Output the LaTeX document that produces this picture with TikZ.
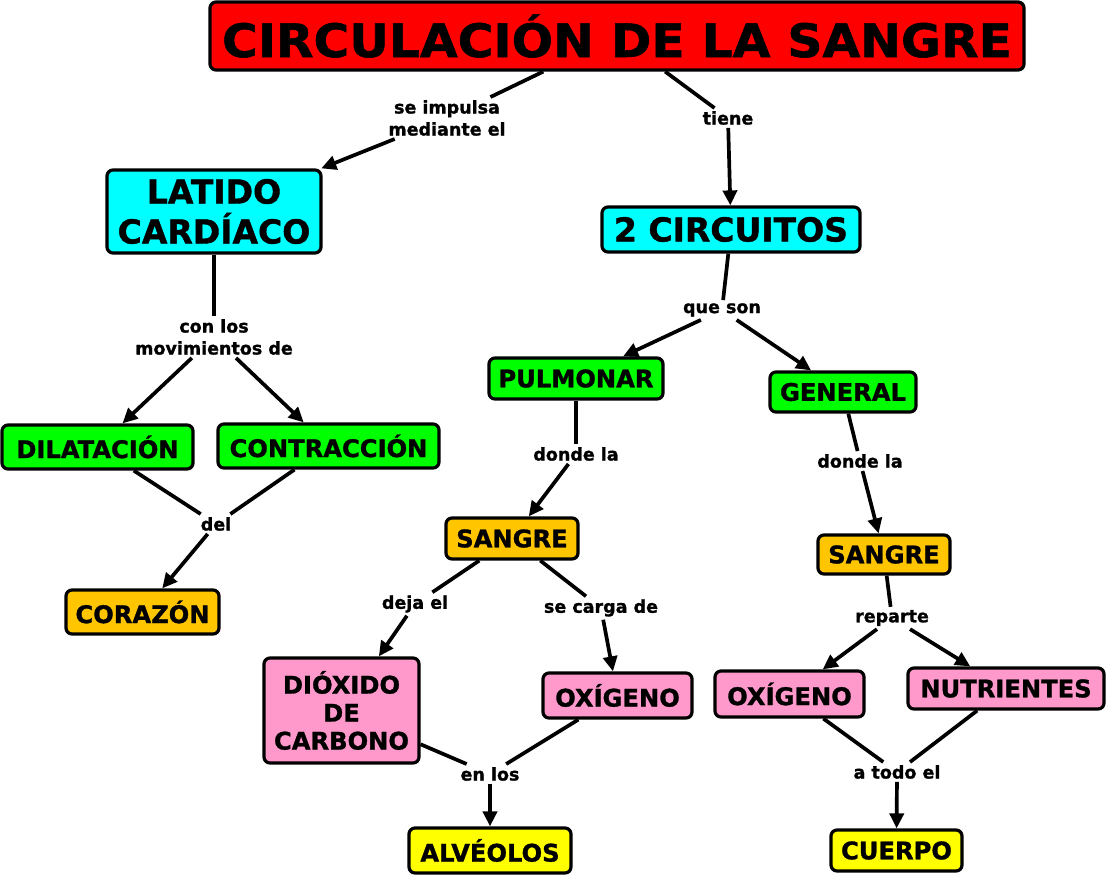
\documentclass[tikz,border=0pt]{standalone}
\usepackage{fontspec}
\setmainfont{DejaVu Sans}[BoldFont={DejaVu Sans Bold}, BoldFeatures={FakeBold=1.2}]
\newfontfamily\titlefont{DejaVu Sans Bold}[FakeStretch=1.06, FakeBold=1.2]
\usetikzlibrary{arrows.meta}
\definecolor{cred}{HTML}{FF0000}
\definecolor{ccyan}{HTML}{00FFFF}
\definecolor{cgreen}{HTML}{00FF00}
\definecolor{corange}{HTML}{FFC600}
\definecolor{cpink}{HTML}{FF99CC}
\definecolor{cyellow}{HTML}{FFFF00}
\tikzset{
  box/.style={draw=black, line width=3.2pt, rounded corners=6pt, inner sep=0pt, align=center, font=\bfseries\fontsize{24.2}{28}\selectfont},
  lbl/.style={inner sep=3pt, align=center, font=\bfseries\fontsize{17.5}{22}\selectfont},
  conn/.style={line width=3.7pt},
  arr/.style={line width=3.7pt, -{Triangle[length=15pt,width=14pt]}},
}
\begin{document}
\begin{tikzpicture}[x=1pt,y=-1pt]
\useasboundingbox[fill=white] (0,0) rectangle (1106,875);
% boxes
\node[box, fill=cred, minimum width=814, minimum height=68, font=\titlefont\fontsize{46}{50}\selectfont] (title) at (617,36) {CIRCULACIÓN DE LA SANGRE};
\node[box, fill=ccyan, minimum width=214, minimum height=83, font=\bfseries\fontsize{33}{40}\selectfont] (latido) at (214,211.5) {LATIDO\\CARDÍACO};
\node[box, fill=ccyan, minimum width=258, minimum height=45, font=\bfseries\fontsize{33}{36}\selectfont] (circ) at (731,229.5) {2 CIRCUITOS};
\node[box, fill=cgreen, minimum width=174, minimum height=41] (pulm) at (576,378.5) {PULMONAR};
\node[box, fill=cgreen, minimum width=146, minimum height=40] (gen) at (843,392) {GENERAL};
\node[box, fill=cgreen, minimum width=191, minimum height=44] (dil) at (97.5,447) {DILATACIÓN};
\node[box, fill=cgreen, minimum width=221, minimum height=44] (contr) at (328.5,446) {CONTRACCIÓN};
\node[box, fill=corange, minimum width=153, minimum height=44] (cora) at (142.5,612) {CORAZÓN};
\node[box, fill=corange, minimum width=132, minimum height=41] (sangL) at (512,538.5) {SANGRE};
\node[box, fill=corange, minimum width=132, minimum height=39] (sangR) at (884,554.5) {SANGRE};
\node[box, fill=cpink, minimum width=155, minimum height=105, font=\bfseries\fontsize{24.2}{28}\selectfont] (diox) at (341.5,710.5) {DIÓXIDO\\DE\\CARBONO};
\node[box, fill=cpink, minimum width=149, minimum height=45] (oxL) at (617.5,695.5) {OXÍGENO};
\node[box, fill=cpink, minimum width=149, minimum height=46] (oxR) at (789.5,694) {OXÍGENO};
\node[box, fill=cpink, minimum width=196, minimum height=41] (nutr) at (1006,688.5) {NUTRIENTES};
\node[box, fill=cyellow, minimum width=162, minimum height=45] (alv) at (490,850.5) {ALVÉOLOS};
\node[box, fill=cyellow, minimum width=131, minimum height=41] (cuer) at (896.5,850.5) {CUERPO};
% labels
\node[lbl] (l1) at (447,118) {se impulsa\\mediante el};
\node[lbl] (l2) at (728,118) {tiene};
\node[lbl] (l3) at (214,337) {con los\\movimientos de};
\node[lbl] (l4) at (722,310) {que son};
\node[lbl] (l5) at (576,454) {donde la};
\node[lbl] (l6) at (860,461) {donde la};
\node[lbl] (l7) at (216,524) {del};
\node[lbl] (l8) at (415,604) {deja el};
\node[lbl] (l9) at (601,608) {se carga de};
\node[lbl] (l10) at (892,618) {reparte};
\node[lbl] (l11) at (490,774) {en los};
\node[lbl] (l12) at (897,772) {a todo el};
% connectors
\draw[conn] (title) -- (l1); \draw[arr] (l1) -- (latido);
\draw[conn] (title) -- (l2); \draw[arr] (l2) -- (circ);
\draw[conn] (latido) -- (l3); \draw[arr] (l3) -- (dil); \draw[arr] (l3) -- (contr);
\draw[conn] (dil) -- (l7); \draw[conn] (contr) -- (l7); \draw[arr] (l7) -- (cora);
\draw[conn] (circ) -- (l4); \draw[arr] (l4) -- (pulm); \draw[arr] (l4) -- (gen);
\draw[conn] (pulm) -- (l5); \draw[arr] (l5) -- (sangL);
\draw[conn] (gen) -- (l6); \draw[arr] (l6) -- (sangR);
\draw[conn] (sangL) -- (l8); \draw[arr] (l8) -- (diox);
\draw[conn] (sangL) -- (l9); \draw[arr] (l9) -- (oxL);
\draw[conn] (sangR) -- (l10); \draw[arr] (l10) -- (oxR); \draw[arr] (l10) -- (nutr);
\draw[conn] (diox) -- (l11); \draw[conn] (oxL) -- (l11); \draw[arr] (l11) -- (alv);
\draw[conn] (oxR) -- (l12); \draw[conn] (nutr) -- (l12); \draw[arr] (l12) -- (cuer);
\end{tikzpicture}
\end{document}
